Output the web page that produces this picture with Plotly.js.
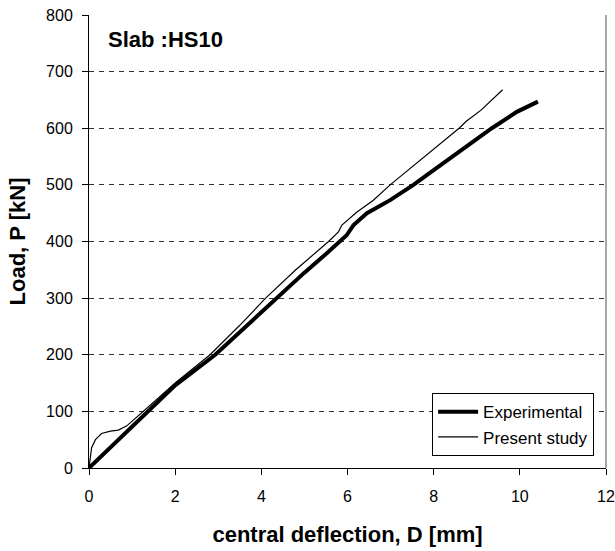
<!DOCTYPE html>
<html><head><meta charset="utf-8">
<script src="https://cdn.plot.ly/plotly-3.0.1.min.js"></script>
<style>body{margin:0;background:#fff}#c{width:615px;height:551px}</style>
</head><body><div id="c"></div>
<script>
const expX = [0, 0.5, 1.0, 1.35, 2.0, 2.93, 3.5, 4.33, 5.0, 5.5, 5.83, 5.98, 6.14, 6.45, 6.99, 7.53, 8.0, 8.5, 9.35, 9.93, 10.42];
const expY = [0, 37, 74, 100, 146, 200, 240, 300, 345, 378, 400, 411, 429, 450, 473, 500, 526, 553, 600, 629, 647];
const preX = [0, 0.06, 0.15, 0.29, 0.5, 0.68, 0.87, 1.0, 1.5, 2.0, 2.81, 3.5, 4.1, 4.8, 5.56, 5.79, 5.87, 6.22, 6.6, 6.99, 7.5, 8.0, 8.59, 8.75, 9.1, 9.6];
const preY = [0, 36, 50, 61, 65, 67, 74, 83, 116, 150, 200, 252, 300, 350, 400, 417, 429, 452, 473, 500, 532, 563, 600, 612, 632, 668];
const seriesNames = ["Experimental", "Present study"];
const slabLabel = "Slab :HS10";
const xTitle = "central deflection, D [mm]";
const yTitle = "Load, P [kN]";

const FONT = "Liberation Sans, Arial, sans-serif";
const traces = [
  {x: expX, y: expY, name: seriesNames[0], mode: "lines", line: {color: "#000", width: 4}},
  {x: preX, y: preY, name: seriesNames[1], mode: "lines", line: {color: "#000", width: 1.2}}
];
const layout = {
  width: 615, height: 551,
  margin: {l: 89, r: 9, t: 15, b: 83},
  paper_bgcolor: "#fff", plot_bgcolor: "#fff",
  font: {family: FONT, color: "#000"},
  showlegend: true,
  xaxis: {
    range: [0, 12], dtick: 2, tick0: 0,
    showgrid: false, zeroline: false,
    showline: true, linecolor: "#000", linewidth: 1,
    ticks: "outside", ticklen: 6, tickcolor: "#000",
    tickfont: {size: 16, family: FONT},
    ticklabelstandoff: 8,
    title: {text: xTitle, font: {size: 22, family: FONT, weight: "bold"}, standoff: 22}
  },
  yaxis: {
    range: [0, 800], dtick: 100, tick0: 0,
    showgrid: true, gridcolor: "#333", griddash: "5px,5px", gridwidth: 1,
    zeroline: false,
    showline: true, linecolor: "#000", linewidth: 1,
    ticks: "outside", ticklen: 6, tickcolor: "#000",
    tickfont: {size: 16, family: FONT},
    ticklabelstandoff: 6,
    title: {text: yTitle, font: {size: 22, family: FONT, weight: "bold"}, standoff: 14}
  },
  legend: {
    x: 0.977, y: 0.026, xanchor: "right", yanchor: "bottom",
    bgcolor: "#fff", bordercolor: "#000", borderwidth: 1,
    itemwidth: 40,
    font: {size: 17, family: FONT}
  },
  shapes: [
    {type: "line", xref: "paper", yref: "paper", x0: 1, x1: 1, y0: 0, y1: 1, line: {color: "#888", width: 1.5}}
  ],
  annotations: [
    {text: slabLabel, xref: "paper", yref: "paper", x: (106-89)/517, y: (468.5-40)/453.5,
     xanchor: "left", yanchor: "middle", showarrow: false,
     font: {size: 22, family: FONT, weight: "bold"}}
  ]
};
Plotly.newPlot("c", traces, layout, {displayModeBar: false, staticPlot: true});
</script></body></html>
